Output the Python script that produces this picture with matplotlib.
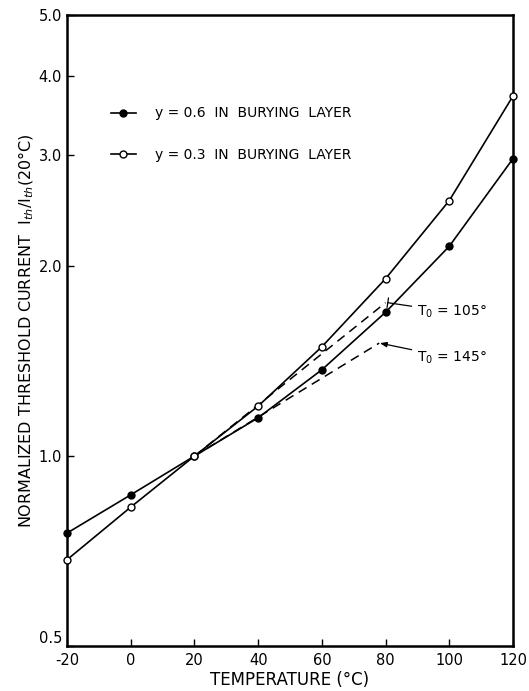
import matplotlib
matplotlib.use('Agg')
import matplotlib.pyplot as plt
import numpy as np

plt.rcParams['font.family'] = ['DejaVu Sans']
plt.rcParams['axes.unicode_minus'] = False

# temperatures (deg C)
temp = [-20, 0, 20, 40, 60, 80, 100, 120]
# normalized threshold current, y=0.6 burying layer (filled)
ith_06 = [0.755, 0.868, 1.0, 1.15, 1.37, 1.69, 2.15, 2.96]
# y=0.3 burying layer (open)
ith_03 = [0.685, 0.83, 1.0, 1.20, 1.49, 1.91, 2.54, 3.72]

# dashed T0 reference lines (endpoints)
t0_105_x = [20, 80]
t0_105_y = [1.0, 1.75]
t0_145_x = [20, 78]
t0_145_y = [1.0, 1.51]

yticks = [0.5, 1.0, 2.0, 3.0, 4.0, 5.0]
yticklabels = ['0.5', '1.0', '2.0', '3.0', '4.0', '5.0']
xticks = [-20, 0, 20, 40, 60, 80, 100, 120]

fig = plt.figure(figsize=(5.29, 6.91), dpi=100)
ax = fig.add_axes([0.1267, 0.0651, 0.843, 0.9132])

ax.plot(temp, ith_06, color='black', lw=1.2, marker='o', ms=5,
        mfc='black', mec='black', label='y = 0.6  IN  BURYING  LAYER', clip_on=False, zorder=3)
ax.plot(temp, ith_03, color='black', lw=1.2, marker='o', ms=5,
        mfc='white', mec='black', mew=1.0, label='y = 0.3  IN  BURYING  LAYER', clip_on=False, zorder=3)

ax.plot(t0_105_x, t0_105_y, color='black', lw=1.1, ls=(0, (6, 4)))
ax.plot(t0_145_x, t0_145_y, color='black', lw=1.1, ls=(0, (6, 4)))

ax.annotate('T$_0$ = 105°', xy=(80.7, 1.75), xytext=(89.9, 1.69),
            fontsize=10, va='center', ha='left',
            arrowprops=dict(arrowstyle='-[, widthB=0.35, lengthB=0', color='black', lw=0.9,
                            shrinkA=2, shrinkB=0))
ax.annotate('T$_0$ = 145°', xy=(78.2, 1.51), xytext=(89.9, 1.43),
            fontsize=10, va='center', ha='left',
            arrowprops=dict(arrowstyle='-|>, head_width=0.15, head_length=0.4', color='black', lw=0.9,
                            shrinkA=2, shrinkB=0))

ax.set_yscale('log')
ax.set_xlim(-20, 120)
ax.set_ylim(0.5, 5.0)
ax.set_yticks(yticks)
ax.set_yticklabels(yticklabels)
ax.yaxis.set_minor_locator(matplotlib.ticker.NullLocator())
ax.set_xticks(xticks)
ax.tick_params(direction='in', length=5, width=1.0, labelsize=10.5)
ax.tick_params(axis='x', pad=5)
# lift the bottom y label so it clears "-20"
ax.get_yticklabels()[0].set_verticalalignment('bottom')

for s in ax.spines.values():
    s.set_linewidth(1.8)

ax.set_xlabel('TEMPERATURE (°C)', fontsize=12, labelpad=2)
ax.set_ylabel('NORMALIZED THRESHOLD CURRENT  I$_{th}$/I$_{th}$(20°C)', fontsize=11.5, labelpad=2)

ax.legend(loc='upper left', bbox_to_anchor=(0.07, 0.875), frameon=False, fontsize=10,
          handlelength=1.8, labelspacing=2.0, handletextpad=1.4)

fig.savefig('out.png', dpi=100)
